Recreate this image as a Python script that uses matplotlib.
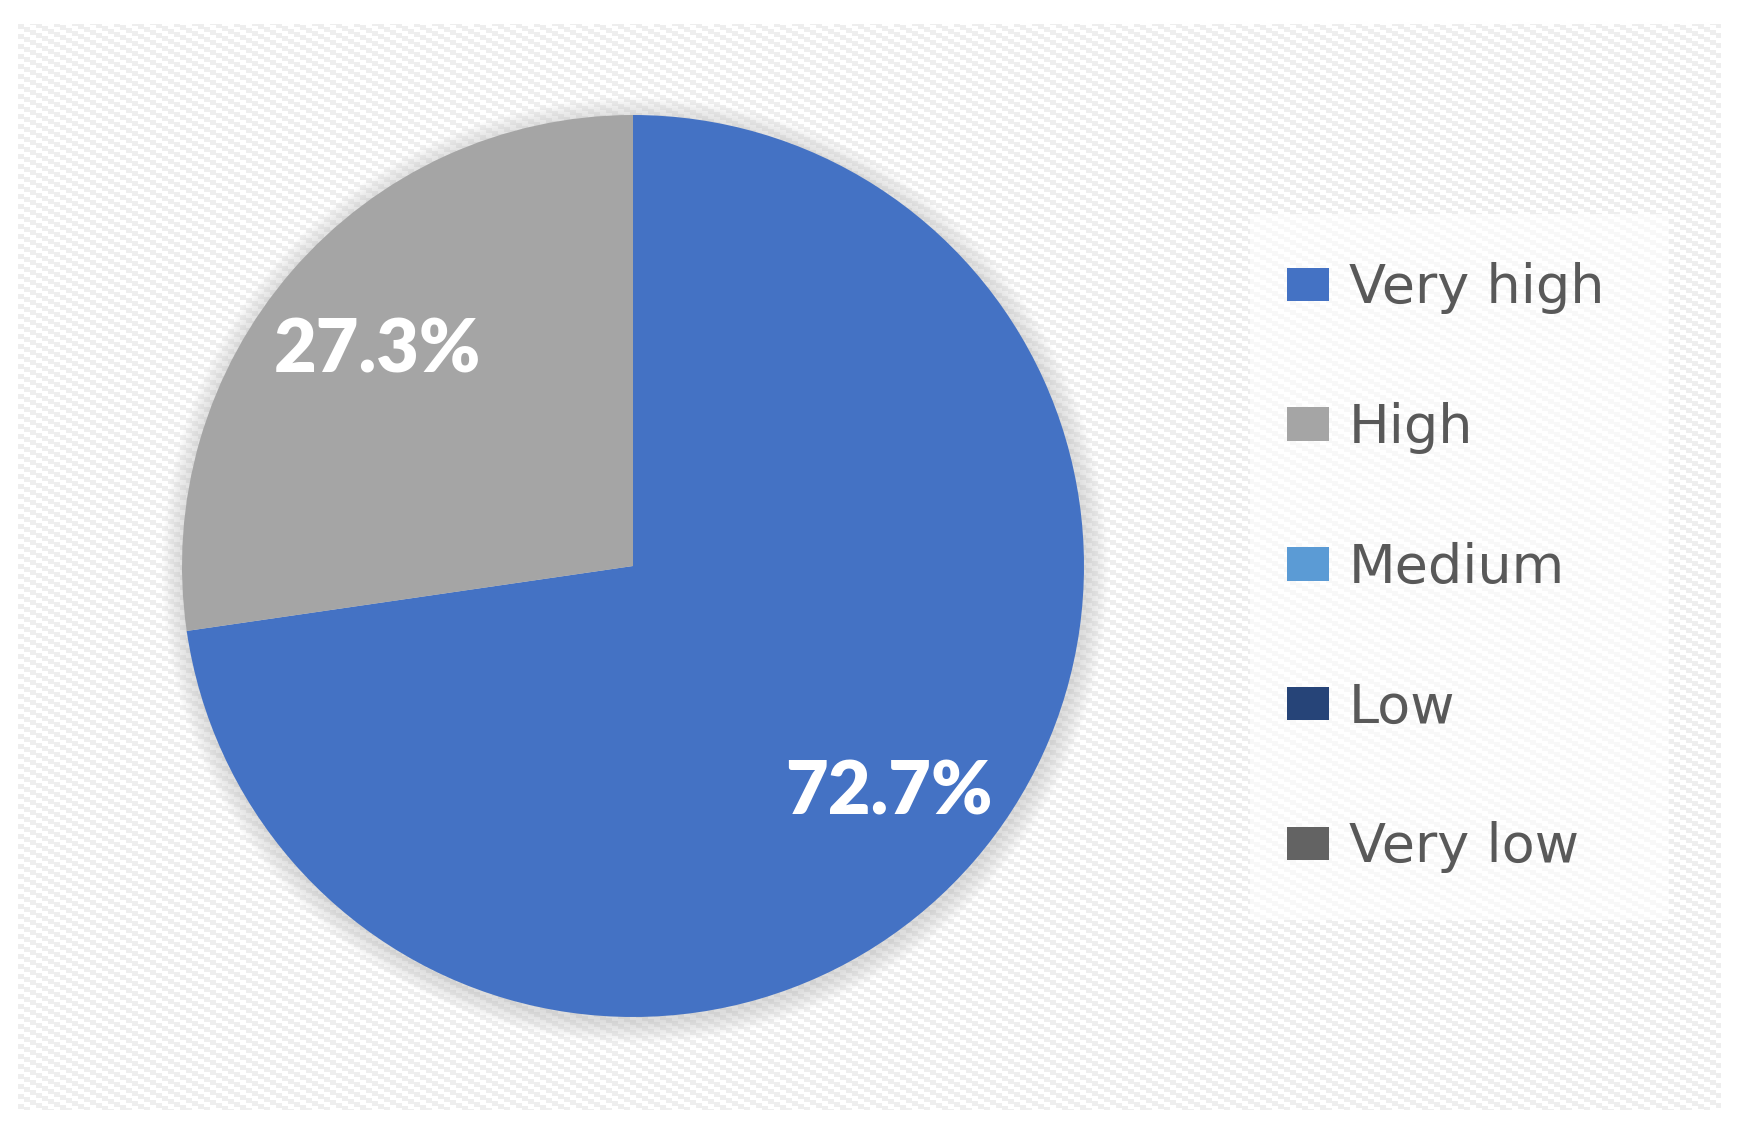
import numpy as np
import matplotlib
matplotlib.use("Agg")
import matplotlib.pyplot as plt
from matplotlib.patches import Patch, Rectangle, Circle

# ---- data ----
categories = ["Very high", "High", "Medium", "Low", "Very low"]
shares = [72.7, 27.3, 0.0, 0.0, 0.0]
colors = ["#4472C4", "#A5A5A5", "#5B9BD5", "#264478", "#636363"]

W, H = 1739, 1141
fig = plt.figure(figsize=(W / 100, H / 100), dpi=100)
fig.patch.set_facecolor("white")

# ---- carbon style background in chart area ----
x0, x1, y0, y1 = 18, 1721, 24, 1110
bg = fig.add_axes([0, 0, 1, 1])
bg.set_xlim(0, W)
bg.set_ylim(H, 0)
bg.axis("off")
yy, xx = np.mgrid[y0:y1, x0:x1]
pat = ((yy - 3 * (xx // 6)) // 5) % 2
img = np.where(pat[..., None] == 1, 0.935, 1.0) * np.ones(3)
bg.imshow(img, extent=(x0, x1, y1, y0), interpolation="nearest", zorder=0)

# soft shadow round the pie
cx, cy, r = 633, 566, 451
for i in range(14):
    bg.add_patch(Circle((cx + 2, cy + 4), r + 22 - i * 1.6, color="#888888",
                        alpha=0.018, lw=0, zorder=1))

# legend backing box
bg.add_patch(Rectangle((1250, 214), 419, 706, facecolor="white", alpha=0.6,
                       lw=0, zorder=1))

# ---- pie ----
ax = fig.add_axes([(cx - r) / W, (H - cy - r) / H, 2 * r / W, 2 * r / H])
wedges, _, autotexts = ax.pie(
    shares, colors=colors, startangle=90, counterclock=False,
    autopct=lambda p: f"{p:.1f}%" if p > 0 else "", pctdistance=0.75,
    wedgeprops=dict(linewidth=0),
    textprops=dict(color="white", fontsize=53, fontweight="heavy", family="Lato"),
)
for t in autotexts:
    t.set_va("center_baseline")
ax.set_xlim(-1, 1)
ax.set_ylim(-1, 1)

handles = [Patch(facecolor=c, edgecolor="none") for c in colors]
leg = fig.legend(
    handles, categories, loc="center left",
    bbox_to_anchor=(1287 / W, 1 - 568 / H),
    frameon=False, borderpad=0, borderaxespad=0,
    prop=dict(family="DejaVu Sans", size=39),
    handlelength=0.78, handleheight=0.57, handletextpad=0.36,
    labelspacing=1.62, labelcolor="#595959",
)

fig.savefig("out.png", dpi=100)
